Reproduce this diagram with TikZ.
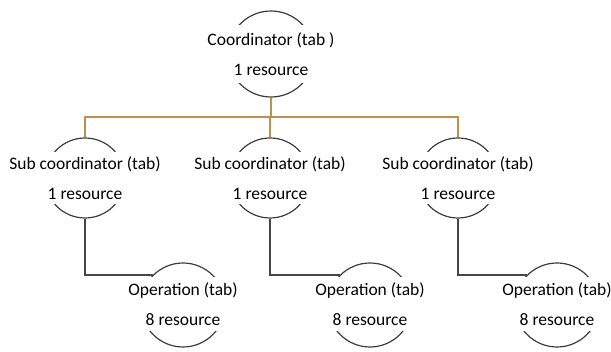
\documentclass[tikz,border=0pt]{standalone}
\usepackage{fontspec}
\setmainfont{Carlito}
\definecolor{busc}{RGB}{185,145,80}
\definecolor{linec}{RGB}{70,70,70}
\definecolor{arcc}{RGB}{60,60,60}
\begin{document}
\begin{tikzpicture}[x=1pt,y=-1pt,
  ring/.style={circle, draw=arcc, line width=1.2pt, inner sep=0pt, minimum size=#1},
  lbl/.style={fill=white, align=center, inner xsep=1pt, inner ysep=0pt, minimum height=#1,
    font=\fontsize{17.5}{30}\selectfont, text=black},
  bus/.style={draw=busc, line width=1.5pt},
  link/.style={draw=linec, line width=1.5pt}]
\useasboundingbox (0,0) rectangle (611,352);
% circles
\node[ring=86pt] (c0) at (271,54) {};
\node[ring=80pt] (s1) at (85,178) {};
\node[ring=80pt] (s2) at (270,178) {};
\node[ring=80pt] (s3) at (458,178) {};
\node[ring=84pt] (o1) at (183,305) {};
\node[ring=84pt] (o2) at (370,305) {};
\node[ring=84pt] (o3) at (557,305) {};
\coordinate (busy) at (0,117);
% connectors
\draw[bus] (c0.south) -- (c0.south |- busy);
\draw[bus] (s1.north) -- (s1.north |- busy) -- (s3.north |- busy) -- (s3.north);
\draw[bus] (s2.north) -- (s2.north |- busy);
\draw[link] (s1.south) |- (o1.135);
\draw[link] (s2.south) |- (o2.135);
\draw[link] (s3.south) |- (o3.135);
% labels
\node[lbl=58pt] (t0) at (c0) {Coordinator (tab )\\1 resource};
\node[lbl=52pt] (t1) at (s1) {Sub coordinator (tab)\\1 resource};
\node[lbl=52pt] (t2) at (s2) {Sub coordinator (tab)\\1 resource};
\node[lbl=52pt] (t3) at (s3) {Sub coordinator (tab)\\1 resource};
\node[lbl=54pt] (u1) at ([yshift=1pt]o1.center) {Operation (tab)\\8 resource};
\node[lbl=54pt] (u2) at ([yshift=1pt]o2.center) {Operation (tab)\\8 resource};
\node[lbl=54pt] (u3) at ([yshift=1pt]o3.center) {Operation (tab)\\8 resource};
\end{tikzpicture}
\end{document}
